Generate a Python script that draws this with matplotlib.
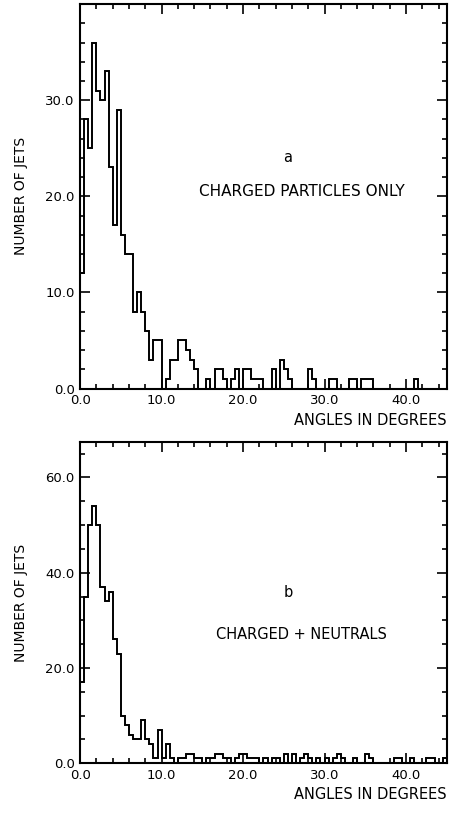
import numpy as np
import matplotlib
matplotlib.use("Agg")
import matplotlib.pyplot as plt
from matplotlib.ticker import MultipleLocator, FormatStrFormatter

# bin edges: 0.5 degree bins from 0 to 45
edges = np.arange(0, 45.5, 0.5)
xticks = [0, 10, 20, 30, 40]

# (a) charged particles only, counts per bin
counts_a = [12, 28, 25, 36, 31, 30, 33, 23, 17, 29,
            16, 14, 14, 8, 10, 8, 6, 3, 5, 5,
            0, 1, 3, 3, 5, 5, 4, 3, 2, 0,
            0, 1, 0, 2, 2, 1, 0, 1, 2, 0,
            2, 2, 1, 1, 1, 0, 0, 2, 0, 3,
            2, 1, 0, 0, 0, 0, 2, 1, 0, 0,
            0, 1, 1, 0, 0, 0, 1, 1, 0, 1,
            1, 1, 0, 0, 0, 0, 0, 0, 0, 0,
            0, 0, 1, 0, 0, 0, 0, 0, 0, 0]
yticks_a = [0, 10, 20, 30]

# (b) charged + neutrals
counts_b = [17, 35, 50, 54, 50, 37, 34, 36, 26, 23,
            10, 8, 6, 5, 5, 9, 5, 4, 1, 7,
            1, 4, 1, 0, 1, 1, 2, 2, 1, 1,
            0, 1, 1, 2, 2, 1, 1, 0, 1, 2,
            2, 1, 1, 1, 0, 1, 0, 1, 1, 0,
            2, 0, 2, 0, 1, 2, 1, 0, 1, 0,
            1, 0, 1, 2, 1, 0, 0, 1, 0, 0,
            2, 1, 0, 0, 0, 0, 0, 1, 1, 0,
            0, 1, 0, 0, 0, 1, 1, 0, 0, 1]
yticks_b = [0, 20, 40, 60]

panels = [
    dict(counts=counts_a, ymax=40, yticks=yticks_a, ymin=2, tag="a",
         label="CHARGED PARTICLES ONLY", tag_y=23.6, label_y=20.0, lsize=11),
    dict(counts=counts_b, ymax=67.5, yticks=yticks_b, ymin=5, tag="b",
         label="CHARGED + NEUTRALS", tag_y=35.0, label_y=26.0, lsize=10.5),
]
axes_pos = [[0.176, 0.525, 0.806, 0.470], [0.176, 0.067, 0.806, 0.393]]

fig = plt.figure(figsize=(4.55, 8.18), dpi=100)
plt.rcParams['font.family'] = ['DejaVu Sans']

for p, pos in zip(panels, axes_pos):
    ax = fig.add_axes(pos)
    ax.stairs(p["counts"], edges, color="black", linewidth=1.4)
    ax.set_xlim(0, 45)
    ax.set_ylim(0, p["ymax"])
    ax.set_xticks(xticks)
    ax.set_yticks(p["yticks"])
    ax.xaxis.set_minor_locator(MultipleLocator(2))
    ax.yaxis.set_minor_locator(MultipleLocator(p["ymin"]))
    ax.xaxis.set_major_formatter(FormatStrFormatter("%.1f"))
    ax.yaxis.set_major_formatter(FormatStrFormatter("%.1f"))
    ax.tick_params(which="both", direction="in", top=True, right=True,
                   labelsize=9.5, width=1.2)
    ax.tick_params(which="major", length=7, pad=4)
    ax.tick_params(which="minor", length=3.5)
    for s in ax.spines.values():
        s.set_linewidth(1.5)
    ax.set_xlabel("ANGLES IN DEGREES", loc="right", fontsize=10.5, labelpad=4)
    ax.set_ylabel("NUMBER OF JETS", fontsize=10, labelpad=12)
    ax.text(25.5, p["tag_y"], p["tag"], fontsize=10.5, ha="center")
    ax.text(27.2, p["label_y"], p["label"], fontsize=p["lsize"], ha="center")

fig.savefig("out.png", dpi=100)
